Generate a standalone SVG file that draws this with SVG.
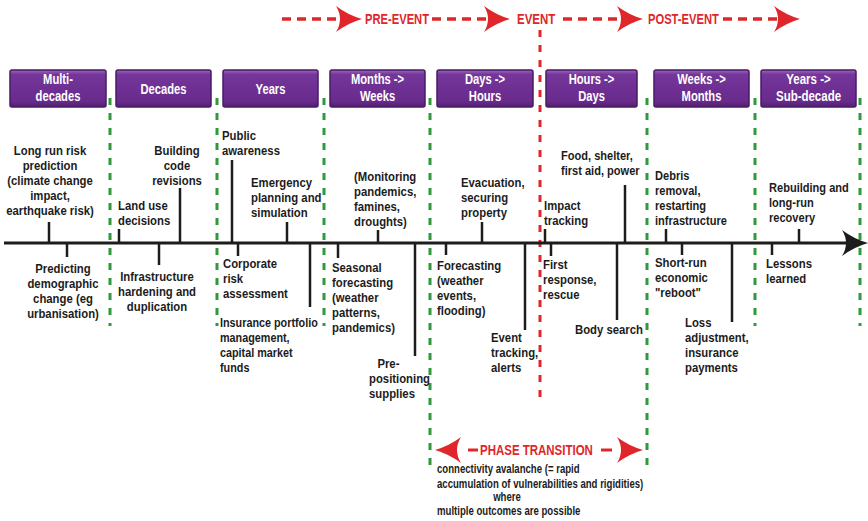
<svg xmlns="http://www.w3.org/2000/svg" width="868" height="521" viewBox="0 0 868 521">
  <defs>
    <linearGradient id="boxFill" x1="0" y1="0" x2="0" y2="1">
      <stop offset="0" stop-color="#9b69bb"/>
      <stop offset="0.12" stop-color="#74369a"/>
      <stop offset="0.85" stop-color="#682b8c"/>
      <stop offset="1" stop-color="#521f70"/>
    </linearGradient>
    <!-- swept arrowheads, tip at origin -->
    <path id="headR" d="M0,0 Q-14,-4 -26,-13 Q-18,0 -26,13 Q-14,4 0,0 Z"/>
    <path id="headL" d="M0,0 Q14,-4 26,-13 Q18,0 26,13 Q14,4 0,0 Z"/>
  </defs>
  <style>
    text { font-family: "Liberation Sans", Arial, sans-serif; font-weight: bold; }
    .box { fill: url(#boxFill); stroke: #4a1a68; stroke-width: 1.5; }
    .boxText { font-size: 14px; fill: #ffffff; text-anchor: middle; }
    .t { font-size: 13.5px; fill: #1c1c1c; }
    .mid { text-anchor: middle; }
    .small { font-size: 12px; fill: #1c1c1c; }
    .red { font-size: 14px; fill: #e0262b; }
    .tick { stroke: #1c1c1c; stroke-width: 2.5; }
    .sep { stroke: #2f9a3c; stroke-width: 3; stroke-dasharray: 7 8; fill: none; }
    .sepRed { stroke: #e0262b; stroke-width: 3; stroke-dasharray: 7 8; fill: none; }
    .redDash { stroke: #e0262b; stroke-width: 3.5; stroke-dasharray: 9 6; fill: none; }
    .redHead { fill: #e0262b; }
    .axis { stroke: #1c1c1c; stroke-width: 3; }
  </style>

  <rect width="868" height="521" fill="#ffffff"/>

  <!-- connectors: separators, timeline, phase arrows -->
  <g id="connectors">
    <line class="sep" x1="110" y1="98" x2="110" y2="326"/>
    <line class="sep" x1="217" y1="98" x2="217" y2="326"/>
    <line class="sep" x1="324" y1="98" x2="324" y2="326"/>
    <line class="sep" x1="430" y1="98" x2="430" y2="470"/>
    <line class="sep" x1="647" y1="98" x2="647" y2="470"/>
    <line class="sep" x1="755" y1="98" x2="755" y2="326"/>
    <line class="sep" x1="860" y1="98" x2="860" y2="326"/>
    <line class="sepRed" x1="540" y1="30" x2="540" y2="405"/>

    <line class="axis" x1="4" y1="243" x2="856" y2="243"/>
    <use href="#headR" x="868" y="243" fill="#1c1c1c"/>

    <!-- stage arrows along the top -->
    <line class="redDash" x1="282" y1="19" x2="345" y2="19"/>
    <use href="#headR" class="redHead" x="362" y="19"/>
    <line class="redDash" x1="432" y1="19" x2="494" y2="19"/>
    <use href="#headR" class="redHead" x="510" y="19"/>
    <line class="redDash" x1="563" y1="19" x2="626" y2="19"/>
    <use href="#headR" class="redHead" x="643" y="19"/>
    <line class="redDash" x1="723" y1="19" x2="785" y2="19"/>
    <use href="#headR" class="redHead" x="800" y="19"/>

    <!-- phase transition span -->
    <use href="#headL" class="redHead" x="435" y="450"/>
    <line x1="468" y1="450" x2="478" y2="450" stroke="#e0262b" stroke-width="3"/>
    <line x1="601" y1="450" x2="612" y2="450" stroke="#e0262b" stroke-width="3"/>
    <use href="#headR" class="redHead" x="643" y="450"/>
  </g>

  <!-- stage labels (condensed lettering) -->
  <g id="stages">
    <text class="red" transform="translate(365,0) scale(0.8,1)" y="24">PRE-EVENT</text>
    <text class="red" transform="translate(517,0) scale(0.82,1)" y="24">EVENT</text>
    <text class="red" transform="translate(648,0) scale(0.8,1)" y="24">POST-EVENT</text>
  </g>

  <!-- time-scale headers -->
  <g id="h-multidecades">
    <rect class="box" x="10" y="70" width="96" height="37" rx="2"/>
    <g transform="translate(58,0) scale(0.8,1)">
      <text class="boxText" y="84">Multi-</text>
      <text class="boxText" y="101">decades</text>
    </g>
  </g>
  <g id="h-decades">
    <rect class="box" x="116" y="70" width="95" height="37" rx="2"/>
    <g transform="translate(163.5,0) scale(0.8,1)">
      <text class="boxText" y="94">Decades</text>
    </g>
  </g>
  <g id="h-years">
    <rect class="box" x="223" y="70" width="95" height="37" rx="2"/>
    <g transform="translate(270.5,0) scale(0.8,1)">
      <text class="boxText" y="94">Years</text>
    </g>
  </g>
  <g id="h-months-weeks">
    <rect class="box" x="330" y="70" width="95" height="37" rx="2"/>
    <g transform="translate(377.5,0) scale(0.8,1)">
      <text class="boxText" y="84">Months -&gt;</text>
      <text class="boxText" y="101">Weeks</text>
    </g>
  </g>
  <g id="h-days-hours">
    <rect class="box" x="437" y="70" width="96" height="37" rx="2"/>
    <g transform="translate(485,0) scale(0.8,1)">
      <text class="boxText" y="84">Days -&gt;</text>
      <text class="boxText" y="101">Hours</text>
    </g>
  </g>
  <g id="h-hours-days">
    <rect class="box" x="546" y="70" width="91" height="37" rx="2"/>
    <g transform="translate(591.5,0) scale(0.8,1)">
      <text class="boxText" y="84">Hours -&gt;</text>
      <text class="boxText" y="101">Days</text>
    </g>
  </g>
  <g id="h-weeks-months">
    <rect class="box" x="654" y="70" width="95" height="37" rx="2"/>
    <g transform="translate(701.5,0) scale(0.8,1)">
      <text class="boxText" y="84">Weeks -&gt;</text>
      <text class="boxText" y="101">Months</text>
    </g>
  </g>
  <g id="h-years-subdecade">
    <rect class="box" x="761" y="70" width="95" height="37" rx="2"/>
    <g transform="translate(808.5,0) scale(0.82,1)">
      <text class="boxText" y="84">Years -&gt;</text>
      <text class="boxText" y="101">Sub-decade</text>
    </g>
  </g>

  <!-- multi-decades -->
  <g id="n-long-run-risk">
    <line class="tick" x1="49" y1="222" x2="49" y2="243"/>
    <g transform="translate(50,0) scale(0.84,1)">
      <text class="t mid" y="155">Long run risk</text>
      <text class="t mid" y="170">prediction</text>
      <text class="t mid" y="185">(climate change</text>
      <text class="t mid" y="200">impact,</text>
      <text class="t mid" y="215">earthquake risk)</text>
    </g>
  </g>
  <g id="n-demographic">
    <line class="tick" x1="67" y1="243" x2="67" y2="257"/>
    <g transform="translate(63,0) scale(0.84,1)">
      <text class="t mid" y="273">Predicting</text>
      <text class="t mid" y="288">demographic</text>
      <text class="t mid" y="303">change (eg</text>
      <text class="t mid" y="318">urbanisation)</text>
    </g>
  </g>

  <!-- decades -->
  <g id="n-land-use">
    <line class="tick" x1="119" y1="229" x2="119" y2="243"/>
    <g transform="translate(118,0) scale(0.84,1)">
      <text class="t" y="210">Land use</text>
      <text class="t" y="225">decisions</text>
    </g>
  </g>
  <g id="n-building-code">
    <line class="tick" x1="180" y1="188" x2="180" y2="243"/>
    <g transform="translate(177,0) scale(0.84,1)">
      <text class="t mid" y="155">Building</text>
      <text class="t mid" y="170">code</text>
      <text class="t mid" y="185">revisions</text>
    </g>
  </g>
  <g id="n-infrastructure">
    <line class="tick" x1="159" y1="243" x2="159" y2="265"/>
    <g transform="translate(157,0) scale(0.84,1)">
      <text class="t mid" y="281">Infrastructure</text>
      <text class="t mid" y="296">hardening and</text>
      <text class="t mid" y="311">duplication</text>
    </g>
  </g>

  <!-- years -->
  <g id="n-public-awareness">
    <line class="tick" x1="232" y1="160" x2="232" y2="243"/>
    <g transform="translate(222,0) scale(0.84,1)">
      <text class="t" y="140">Public</text>
      <text class="t" y="155">awareness</text>
    </g>
  </g>
  <g id="n-emergency-planning">
    <line class="tick" x1="287" y1="222" x2="287" y2="243"/>
    <g transform="translate(251,0) scale(0.84,1)">
      <text class="t" y="187">Emergency</text>
      <text class="t" y="202">planning and</text>
      <text class="t" y="217">simulation</text>
    </g>
  </g>
  <g id="n-corporate-risk">
    <line class="tick" x1="238" y1="243" x2="238" y2="256"/>
    <g transform="translate(223,0) scale(0.84,1)">
      <text class="t" y="268">Corporate</text>
      <text class="t" y="283">risk</text>
      <text class="t" y="298">assessment</text>
    </g>
  </g>
  <g id="n-insurance-portfolio">
    <line class="tick" x1="310" y1="243" x2="310" y2="307"/>
    <g transform="translate(220,0) scale(0.8,1)">
      <text class="t" y="327">Insurance portfolio</text>
      <text class="t" y="342">management,</text>
      <text class="t" y="357">capital market</text>
      <text class="t" y="372">funds</text>
    </g>
  </g>

  <!-- months to weeks -->
  <g id="n-monitoring">
    <line class="tick" x1="378" y1="230" x2="378" y2="243"/>
    <g transform="translate(354,0) scale(0.84,1)">
      <text class="t" y="181">(Monitoring</text>
      <text class="t" y="196">pandemics,</text>
      <text class="t" y="211">famines,</text>
      <text class="t" y="226">droughts)</text>
    </g>
  </g>
  <g id="n-seasonal-forecasting">
    <line class="tick" x1="338" y1="243" x2="338" y2="258"/>
    <g transform="translate(332,0) scale(0.84,1)">
      <text class="t" y="272">Seasonal</text>
      <text class="t" y="287">forecasting</text>
      <text class="t" y="302">(weather</text>
      <text class="t" y="317">patterns,</text>
      <text class="t" y="332">pandemics)</text>
    </g>
  </g>
  <g id="n-prepositioning">
    <line class="tick" x1="415" y1="243" x2="415" y2="356"/>
    <g transform="translate(369,0) scale(0.84,1)">
      <text class="t" x="10" y="368">Pre-</text>
      <text class="t" y="383">positioning</text>
      <text class="t" y="398">supplies</text>
    </g>
  </g>

  <!-- days to hours -->
  <g id="n-evacuation">
    <line class="tick" x1="482" y1="222" x2="482" y2="243"/>
    <g transform="translate(461,0) scale(0.84,1)">
      <text class="t" y="187">Evacuation,</text>
      <text class="t" y="202">securing</text>
      <text class="t" y="217">property</text>
    </g>
  </g>
  <g id="n-forecasting">
    <line class="tick" x1="446" y1="243" x2="446" y2="255"/>
    <g transform="translate(437,0) scale(0.84,1)">
      <text class="t" y="270">Forecasting</text>
      <text class="t" y="285">(weather</text>
      <text class="t" y="300">events,</text>
      <text class="t" y="315">flooding)</text>
    </g>
  </g>
  <g id="n-event-tracking">
    <line class="tick" x1="525" y1="243" x2="525" y2="330"/>
    <g transform="translate(491,0) scale(0.84,1)">
      <text class="t" y="342">Event</text>
      <text class="t" y="357">tracking,</text>
      <text class="t" y="372">alerts</text>
    </g>
  </g>

  <!-- hours to days -->
  <g id="n-impact-tracking">
    <line class="tick" x1="545" y1="229" x2="545" y2="243"/>
    <g transform="translate(544,0) scale(0.84,1)">
      <text class="t" y="210">Impact</text>
      <text class="t" y="225">tracking</text>
    </g>
  </g>
  <g id="n-food-shelter">
    <line class="tick" x1="625" y1="185" x2="625" y2="243"/>
    <g transform="translate(561,0) scale(0.82,1)">
      <text class="t" y="160">Food, shelter,</text>
      <text class="t" y="175">first aid, power</text>
    </g>
  </g>
  <g id="n-first-response">
    <line class="tick" x1="551" y1="243" x2="551" y2="256"/>
    <g transform="translate(543,0) scale(0.84,1)">
      <text class="t" y="269">First</text>
      <text class="t" y="284">response,</text>
      <text class="t" y="299">rescue</text>
    </g>
  </g>
  <g id="n-body-search">
    <line class="tick" x1="617" y1="243" x2="617" y2="320"/>
    <g transform="translate(575,0) scale(0.84,1)">
      <text class="t" y="334">Body search</text>
    </g>
  </g>

  <!-- weeks to months -->
  <g id="n-debris-removal">
    <line class="tick" x1="666" y1="229" x2="666" y2="243"/>
    <g transform="translate(655,0) scale(0.82,1)">
      <text class="t" y="180">Debris</text>
      <text class="t" y="195">removal,</text>
      <text class="t" y="210">restarting</text>
      <text class="t" y="225">infrastructure</text>
    </g>
  </g>
  <g id="n-economic-reboot">
    <line class="tick" x1="682" y1="243" x2="682" y2="255"/>
    <g transform="translate(655,0) scale(0.84,1)">
      <text class="t" y="267">Short-run</text>
      <text class="t" y="282">economic</text>
      <text class="t" y="297">"reboot"</text>
    </g>
  </g>
  <g id="n-loss-adjustment">
    <line class="tick" x1="732" y1="243" x2="732" y2="322"/>
    <g transform="translate(685,0) scale(0.84,1)">
      <text class="t" y="327">Loss</text>
      <text class="t" y="342">adjustment,</text>
      <text class="t" y="357">insurance</text>
      <text class="t" y="372">payments</text>
    </g>
  </g>

  <!-- years to sub-decade -->
  <g id="n-rebuilding">
    <line class="tick" x1="799" y1="229" x2="799" y2="243"/>
    <g transform="translate(769,0) scale(0.82,1)">
      <text class="t" y="192">Rebuilding and</text>
      <text class="t" y="207">long-run</text>
      <text class="t" y="222">recovery</text>
    </g>
  </g>
  <g id="n-lessons">
    <line class="tick" x1="772" y1="243" x2="772" y2="255"/>
    <g transform="translate(766,0) scale(0.84,1)">
      <text class="t" y="268">Lessons</text>
      <text class="t" y="283">learned</text>
    </g>
  </g>

  <!-- phase transition note -->
  <g id="n-phase-transition">
    <text class="red" transform="translate(480,0) scale(0.82,1)" y="455">PHASE TRANSITION</text>
    <g transform="translate(437,0) scale(0.8,1)">
      <text class="small" y="473">connectivity avalanche (= rapid</text>
      <text class="small" y="488">accumulation of vulnerabilities and rigidities)</text>
      <text class="small" y="515">multiple outcomes are possible</text>
    </g>
    <text class="small" transform="translate(507,0) scale(0.8,1)" y="501" text-anchor="middle">where</text>
  </g>
</svg>
